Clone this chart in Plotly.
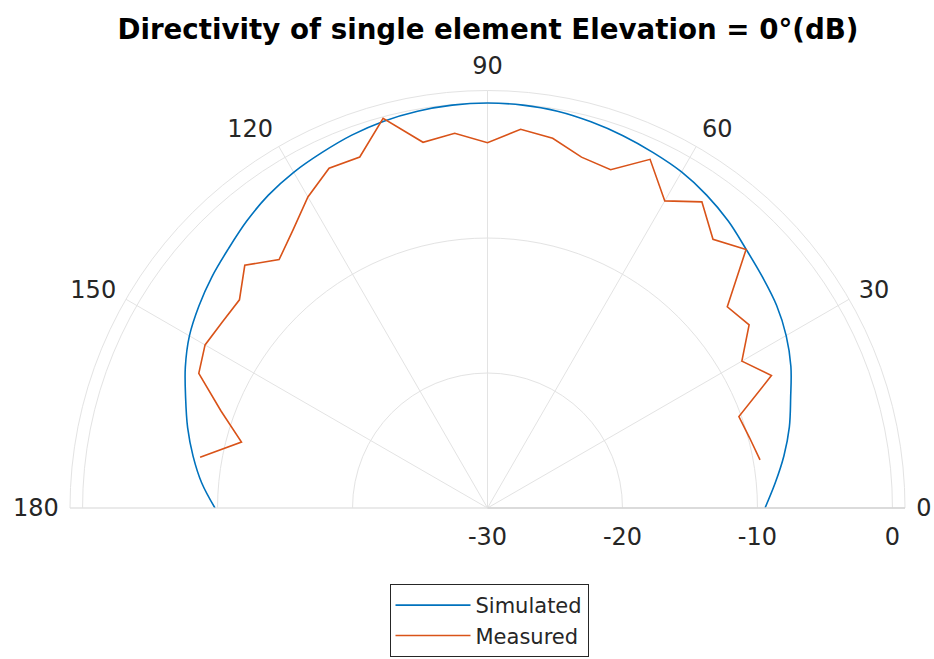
import plotly.graph_objects as go

# ---- data ----
sim_theta = list(range(0, 181, 5))
sim_db = [-9.44, -8.6, -7.7, -6.85, -6.1, -5.2, -4.45, -3.85, -3.4, -2.9,
          -2.25, -1.7, -1.25, -0.95, -0.65, -0.38, -0.15, -0.04, 0.0,
          -0.04, -0.15, -0.33, -0.6, -0.95, -1.28, -1.7, -2.25, -2.85,
          -3.35, -3.9, -4.5, -5.3, -6.2, -7.0, -7.85, -8.75, -9.81]

meas_theta = list(range(10, 171, 5))
meas_db = [-9.50, -9.90, -10.18, -6.79, -8.24, -6.34, -6.81, -2.91, -4.01,
           -2.31, -3.73, -1.50, -3.33, -3.09, -2.19, -1.84, -2.94, -2.13,
           -2.49, -0.12, -2.33, -2.23, -3.39, -4.87, -5.98, -4.57, -6.01,
           -6.00, -5.84, -6.40, -8.99, -11.13, -8.38]

ang_ticks = [0, 30, 60, 90, 120, 150, 180]
ang_labels = ["0", "30", "60", "90", "120", "150", "180"]
rad_ticks = [-30, -20, -10, 0]
rad_labels = ["-30", "-20", "-10", "0"]
r_range = [-30, 0.93]

title_text = "Directivity of single element Elevation = 0°(dB)"

FONT = "DejaVu Sans"
TXT = "#262626"
GRID = "#e3e3e3"

fig = go.Figure()
fig.add_trace(go.Scatterpolar(
    r=sim_db, theta=sim_theta, mode="lines", name="Simulated",
    line=dict(color="#0072BD", width=1.6, shape="spline")))
fig.add_trace(go.Scatterpolar(
    r=meas_db, theta=meas_theta, mode="lines", name="Measured",
    line=dict(color="#D95319", width=1.6)))

fig.update_layout(
    width=934, height=659,
    margin=dict(l=0, r=0, t=0, b=0, autoexpand=False),
    paper_bgcolor="white",
    font=dict(family=FONT, size=24, color=TXT),
    title=dict(text="<b>" + title_text + "</b>", x=488 / 934, xanchor="center",
               y=1 - 29 / 659, yanchor="middle", yref="paper",
               font=dict(family=FONT, size=27.7, color="#000000")),
    polar=dict(
        domain=dict(x=[70 / 934, 905 / 934], y=[151 / 659, 568.5 / 659]),
        sector=[0, 180],
        bgcolor="white",
        radialaxis=dict(
            range=r_range, tickmode="array", tickvals=rad_ticks,
            ticktext=rad_labels, angle=0, side="clockwise",
            showline=True, linecolor="#cccccc", linewidth=1,
            gridcolor=GRID, gridwidth=1,
            ticks="outside", ticklen=8, tickcolor="rgba(0,0,0,0)",
            tickfont=dict(family=FONT, size=24, color=TXT)),
        angularaxis=dict(
            tickmode="array", tickvals=ang_ticks, ticktext=ang_labels,
            direction="counterclockwise", rotation=0,
            showline=True, linecolor=GRID, linewidth=1,
            gridcolor=GRID, gridwidth=1,
            ticks="outside", ticklen=6, tickcolor="rgba(0,0,0,0)",
            tickfont=dict(family=FONT, size=24, color=TXT)),
    ),
    showlegend=True,
    legend=dict(x=489 / 934, xanchor="center", y=2 / 659, yanchor="bottom",
                bordercolor="#262626", borderwidth=1, bgcolor="white",
                font=dict(family=FONT, size=21, color=TXT),
                itemwidth=75, tracegroupgap=0),
)

fig.write_html("out.html")
